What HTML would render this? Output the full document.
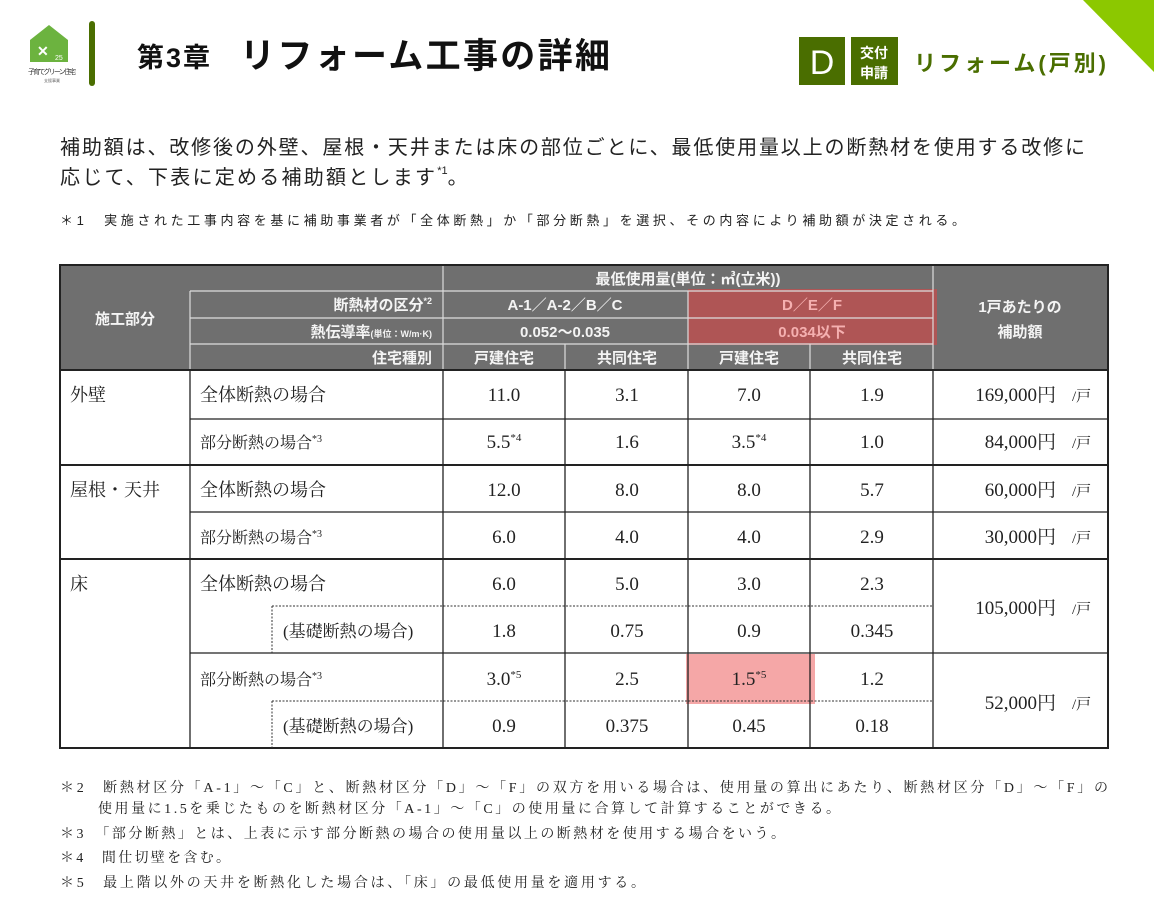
<!DOCTYPE html>
<html><head><meta charset="utf-8"><style>
body{margin:0;background:#fff;width:1154px;height:903px;overflow:hidden}
svg{display:block}
.s{font-family:"Liberation Sans","Noto Sans CJK JP",sans-serif}
.m{font-family:"Liberation Serif","Noto Serif CJK SC","Noto Sans CJK JP",serif}
</style></head><body>
<svg width="1154" height="903" xmlns="http://www.w3.org/2000/svg">
<polygon points="1083,0 1154,0 1154,72" fill="#8cc800"/>
<polygon points="30,40 49,25 68,40 68,62 30,62" fill="#6cb33f"/>
<text x="37" y="56" class="s" font-size="14" fill="#fff" font-weight="bold">✕</text>
<text x="55" y="60" class="s" font-size="7" fill="#fff">25</text>
<text x="28" y="74" class="s" font-size="7" fill="#333" textLength="48">子育てグリーン住宅</text>
<text x="44" y="82" class="s" font-size="4" fill="#666">支援事業</text>
<rect x="89" y="21" width="6" height="65" rx="3" fill="#4a6e00"/>
<text x="137" y="67" class="s" font-size="27" font-weight="bold" fill="#111" textLength="73">第3章</text>
<text x="240" y="68" class="s" font-size="35" font-weight="bold" fill="#111" textLength="370">リフォーム工事の詳細</text>
<rect x="799" y="37" width="46" height="48" fill="#4a6e00"/>
<text x="822" y="74" class="s" font-size="34" fill="#fff" text-anchor="middle">D</text>
<rect x="851" y="37" width="47" height="48" fill="#4a6e00"/>
<text x="874" y="58" class="s" font-size="14" font-weight="bold" fill="#fff" text-anchor="middle">交付</text>
<text x="874" y="78" class="s" font-size="14" font-weight="bold" fill="#fff" text-anchor="middle">申請</text>
<text x="914" y="71" class="s" font-size="22" font-weight="bold" fill="#4a6e00" textLength="192">リフォーム(戸別)</text>
<text x="60" y="154" class="s" font-size="20" fill="#222" textLength="1025">補助額は、改修後の外壁、屋根・天井または床の部位ごとに、最低使用量以上の断熱材を使用する改修に</text>
<text x="60" y="184" class="s" font-size="20" fill="#222"><tspan textLength="375">応じて、下表に定める補助額とします</tspan><tspan font-size="11" dy="-10">*1</tspan><tspan dy="10">。</tspan></text>
<text x="60" y="225" class="s" font-size="13" fill="#222" textLength="905">＊1　実施された工事内容を基に補助事業者が「全体断熱」か「部分断熱」を選択、その内容により補助額が決定される。</text>
<rect x="60" y="265" width="1048" height="105" fill="#6f6f6f"/>
<rect x="688" y="289" width="249" height="56" fill="rgba(215,70,70,0.62)"/>
<rect x="686" y="654" width="129" height="50" fill="rgba(240,120,120,0.65)"/>
<g stroke="#ddd" stroke-width="1.2" fill="none">
<line x1="190" y1="291" x2="933" y2="291"/>
<line x1="190" y1="318" x2="933" y2="318"/>
<line x1="190" y1="344" x2="933" y2="344"/>
<line x1="190" y1="291" x2="190" y2="370"/>
<line x1="443" y1="265" x2="443" y2="370"/>
<line x1="688" y1="291" x2="688" y2="370"/>
<line x1="565" y1="344" x2="565" y2="370"/>
<line x1="810" y1="344" x2="810" y2="370"/>
<line x1="933" y1="265" x2="933" y2="370"/>
</g>
<g class="s" font-size="15" font-weight="bold" fill="#f4f4f4" text-anchor="middle">
<text x="125" y="324">施工部分</text>
<text x="688" y="284">最低使用量(単位：㎥(立米))</text>
<text x="565" y="310">A-1／A-2／B／C</text>
<text x="812" y="310" fill="#f5b0b0">D／E／F</text>
<text x="565" y="337">0.052～0.035</text>
<text x="812" y="337" fill="#f5b0b0">0.034以下</text>
<text x="504" y="363">戸建住宅</text><text x="627" y="363">共同住宅</text>
<text x="749" y="363">戸建住宅</text><text x="872" y="363">共同住宅</text>
<text x="1020" y="312">1戸あたりの</text><text x="1020" y="337">補助額</text>
<text x="432" y="310" text-anchor="end">断熱材の区分<tspan font-size="9" dy="-6">*2</tspan></text>
<text x="432" y="337" text-anchor="end">熱伝導率<tspan font-size="9">(単位：W/m·K)</tspan></text>
<text x="432" y="363" text-anchor="end">住宅種別</text>
</g>
<g stroke="#222" stroke-width="1.3" fill="none">
<rect x="60" y="265" width="1048" height="483" stroke-width="2"/>
<line x1="60" y1="370" x2="1108" y2="370" stroke-width="2"/>
<line x1="60" y1="465" x2="1108" y2="465" stroke-width="2"/>
<line x1="60" y1="559" x2="1108" y2="559" stroke-width="2"/>
<line x1="190" y1="419" x2="1108" y2="419"/>
<line x1="190" y1="512" x2="1108" y2="512"/>
<line x1="190" y1="653" x2="1108" y2="653"/>
<line x1="190" y1="370" x2="190" y2="748"/>
<line x1="443" y1="370" x2="443" y2="748"/>
<line x1="565" y1="370" x2="565" y2="748"/>
<line x1="688" y1="370" x2="688" y2="748"/>
<line x1="810" y1="370" x2="810" y2="748"/>
<line x1="933" y1="370" x2="933" y2="748"/>
</g>
<g stroke="#333" stroke-width="1" stroke-dasharray="2,1.5" fill="none">
<line x1="272" y1="606" x2="933" y2="606"/><line x1="272" y1="606" x2="272" y2="653"/>
<line x1="272" y1="701" x2="933" y2="701"/><line x1="272" y1="701" x2="272" y2="748"/>
</g>
<g class="m" font-size="18" fill="#222">
<text x="70" y="401">外壁</text><text x="70" y="496">屋根・天井</text><text x="70" y="590">床</text>
<text x="200" y="401">全体断熱の場合</text>
<text x="200" y="448" font-size="16">部分断熱の場合<tspan font-size="10" dy="-6">*3</tspan></text>
<text x="200" y="496">全体断熱の場合</text>
<text x="200" y="543" font-size="16">部分断熱の場合<tspan font-size="10" dy="-6">*3</tspan></text>
<text x="200" y="590">全体断熱の場合</text>
<text x="283" y="637" font-size="17">(基礎断熱の場合)</text>
<text x="200" y="685" font-size="16">部分断熱の場合<tspan font-size="10" dy="-6">*3</tspan></text>
<text x="283" y="732" font-size="17">(基礎断熱の場合)</text>
</g>
<g class="m" font-size="19" fill="#222" text-anchor="middle">
<text x="504" y="401">11.0</text><text x="627" y="401">3.1</text><text x="749" y="401">7.0</text><text x="872" y="401">1.9</text>
<text x="504" y="448">5.5<tspan font-size="11" dy="-7">*4</tspan></text><text x="627" y="448">1.6</text><text x="749" y="448">3.5<tspan font-size="11" dy="-7">*4</tspan></text><text x="872" y="448">1.0</text>
<text x="504" y="496">12.0</text><text x="627" y="496">8.0</text><text x="749" y="496">8.0</text><text x="872" y="496">5.7</text>
<text x="504" y="543">6.0</text><text x="627" y="543">4.0</text><text x="749" y="543">4.0</text><text x="872" y="543">2.9</text>
<text x="504" y="590">6.0</text><text x="627" y="590">5.0</text><text x="749" y="590">3.0</text><text x="872" y="590">2.3</text>
<text x="504" y="637">1.8</text><text x="627" y="637">0.75</text><text x="749" y="637">0.9</text><text x="872" y="637">0.345</text>
<text x="504" y="685">3.0<tspan font-size="11" dy="-7">*5</tspan></text><text x="627" y="685">2.5</text><text x="749" y="685">1.5<tspan font-size="11" dy="-7">*5</tspan></text><text x="872" y="685">1.2</text>
<text x="504" y="732">0.9</text><text x="627" y="732">0.375</text><text x="749" y="732">0.45</text><text x="872" y="732">0.18</text>
</g>
<g class="m" font-size="19" fill="#222" text-anchor="end">
<text x="1056" y="401">169,000円</text><text x="1056" y="448">84,000円</text>
<text x="1056" y="496">60,000円</text><text x="1056" y="543">30,000円</text>
<text x="1056" y="614">105,000円</text><text x="1056" y="709">52,000円</text>
</g>
<g class="m" font-size="15" fill="#222">
<text x="1072" y="401">/戸</text><text x="1072" y="448">/戸</text><text x="1072" y="496">/戸</text>
<text x="1072" y="543">/戸</text><text x="1072" y="614">/戸</text><text x="1072" y="709">/戸</text>
</g>
<g class="m" font-size="14" fill="#222">
<text x="60" y="792" textLength="1048">＊2　断熱材区分「A-1」～「C」と、断熱材区分「D」～「F」の双方を用いる場合は、使用量の算出にあたり、断熱材区分「D」～「F」の</text>
<text x="98" y="813" textLength="742">使用量に1.5を乗じたものを断熱材区分「A-1」～「C」の使用量に合算して計算することができる。</text>
<text x="60" y="838" textLength="725">＊3　「部分断熱」とは、上表に示す部分断熱の場合の使用量以上の断熱材を使用する場合をいう。</text>
<text x="60" y="862" textLength="170">＊4　間仕切壁を含む。</text>
<text x="60" y="887" textLength="585">＊5　最上階以外の天井を断熱化した場合は、「床」の最低使用量を適用する。</text>
</g>
</svg>
</body></html>
